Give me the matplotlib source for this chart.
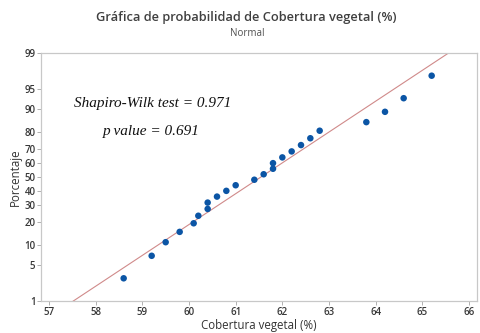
import matplotlib
matplotlib.use("Agg")
import matplotlib.pyplot as plt
import numpy as np
from statistics import NormalDist

# ---- data ----
cobertura = [58.6, 59.2, 59.5, 59.8, 60.1, 60.2, 60.4, 60.4, 60.6, 60.8, 61.0,
             61.4, 61.6, 61.8, 61.8, 62.0, 62.2, 62.4, 62.6, 62.8, 63.8, 64.2,
             64.6, 65.2]
y_ticks_pct = [1, 5, 10, 20, 30, 40, 50, 60, 70, 80, 90, 95, 99]
x_ticks = [57, 58, 59, 60, 61, 62, 63, 64, 65, 66]
title = "Gráfica de probabilidad de Cobertura vegetal (%)"
subtitle = "Normal"
xlabel = "Cobertura vegetal (%)"
ylabel = "Porcentaje"
ann1 = "Shapiro-Wilk test = 0.971"
ann2 = "p value = 0.691"

nd = NormalDist()
x = np.sort(np.array(cobertura))
n = len(x)
ranks = (np.arange(1, n + 1) - 0.3) / (n + 0.4)
z = np.array([nd.inv_cdf(p) for p in ranks])

mu = x.mean()
sd = x.std(ddof=1)
zlo, zhi = nd.inv_cdf(0.01), nd.inv_cdf(0.99)

plt.rcParams['font.family'] = ['Open Sans', 'DejaVu Sans']

fig = plt.figure(figsize=(4.81, 3.33), dpi=100)
ax = fig.add_axes([41/481, 1-301/333, 436/481, 248/333])

zl = np.array([zlo - 0.1, zhi + 0.1])
ax.plot(mu + sd * zl, zl, color='#d08a8a', lw=0.8, zorder=2)
ax.scatter(x, z, s=22, color='#0b55a5', edgecolors='none', zorder=3)

ax.set_xlim(57 - 8/46.67, 66 + 8/46.67)
ax.set_ylim(zlo, zhi)
ax.set_xticks(x_ticks)
ax.set_xticklabels([str(t) for t in x_ticks])
ax.set_yticks([nd.inv_cdf(p/100) for p in y_ticks_pct])
ax.set_yticklabels([str(p) for p in y_ticks_pct])

for s in ax.spines.values():
    s.set_color('#c8c8c8')
    s.set_linewidth(0.9)
ax.tick_params(axis='both', direction='out', length=3, width=0.7,
               color='#b0b0b0', labelsize=7, labelcolor='#383838', pad=1)
for lab in ax.get_xticklabels() + ax.get_yticklabels():
    lab.set_fontweight('semibold')

ax.set_xlabel(xlabel, fontsize=8.3, color='#333333', labelpad=1)
ax.set_ylabel(ylabel, fontsize=8.3, color='#333333', labelpad=2)

fig.text(246/481, 1-18/333, title, ha='center', va='center', fontsize=9.3,
         fontweight='semibold', color='#404040')
fig.text(247/481, 1-33/333, subtitle, ha='center', va='center', fontsize=7,
         color='#505050')

fig.text(153/481, 1-103/333, ann1, ha='center', va='center', fontsize=11,
         family=['Liberation Serif'], style='italic', color='#111111')
fig.text(151/481, 1-131/333, ann2, ha='center', va='center', fontsize=11,
         family=['Liberation Serif'], style='italic', color='#111111')

fig.savefig('out.png', dpi=100)
